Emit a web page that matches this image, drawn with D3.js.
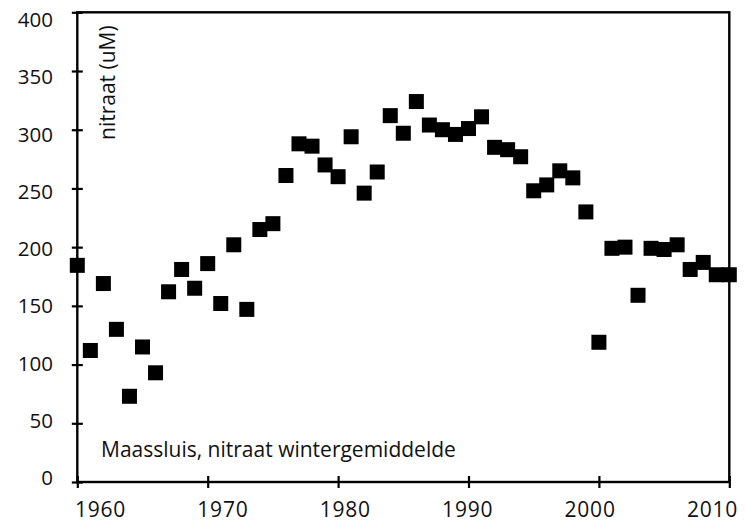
<!DOCTYPE html>
<meta charset="utf-8">
<html>
<head>
<script type="text/javascript" src="https://d3js.org/d3.v7.js"></script>
</head>
<body style="margin:0;background:#fff">
<div id="plotArea"></div>
<style>
  text { font-family: "Open Sans", sans-serif; fill: #111; }
</style>
<script>
  // winter means of nitrate at Maassluis, one value per year 1960-2010
  var years = d3.range(1960, 2011);
  var nitraat = [184.5, 112, 169, 130, 73, 115, 93, 162, 181, 165,
                 186, 152, 202, 147, 215, 220, 261, 288, 286, 270,
                 260, 294, 246, 264, 312, 297, 324, 304, 300, 296,
                 301, 311, 285, 283, 277, 248, 253, 265, 259, 230,
                 119, 199, 200, 159, 199, 198, 202, 181, 187, 176.5,
                 176.5];
  var xTicks = [1960, 1970, 1980, 1990, 2000, 2010];
  var yTicks = [0, 50, 100, 150, 200, 250, 300, 350, 400];

  const width = 746, height = 524;
  const svg = d3.select("#plotArea").append("svg")
                .attr("width", width).attr("height", height);

  // scales for the marks
  var xScale = d3.scaleLinear().domain([1960, 2010]).range([77.3, 729.3]);
  var yScale = d3.scaleLinear().domain([0, 400]).range([482, 12.3]);
  // the tick labels sit on a slightly tighter spacing than the tick marks
  var xLab = d3.scaleLinear().domain([1960, 2010]).range([100, 712]);
  var yLab = d3.scaleLinear().domain([0, 400]).range([478, 20]);

  // tick marks crossing the axes
  var yTickG = svg.append("g").attr("transform", "translate(" + (xScale(1960) + 5.5) + ",0)")
     .call(d3.axisLeft(yScale).tickValues(yTicks).tickSize(11).tickFormat(""));
  yTickG.select(".domain").remove();
  yTickG.selectAll("line").attr("stroke", "#000").attr("stroke-width", 2.2);

  var xTickG = svg.append("g").attr("transform", "translate(0," + (yScale(0) - 6) + ")")
     .call(d3.axisBottom(xScale).tickValues(xTicks).tickSize(12).tickFormat(""));
  xTickG.select(".domain").remove();
  xTickG.selectAll("line").attr("stroke", "#000").attr("stroke-width", 2.2);

  // tick labels
  var yLabG = svg.append("g").attr("transform", "translate(53,0)")
     .call(d3.axisLeft(yLab).tickValues(yTicks).tickSize(0).tickPadding(0));
  yLabG.select(".domain").remove();
  yLabG.selectAll("text").style("font-size", "20.5px").attr("fill", "#111");

  var xLabG = svg.append("g").attr("transform", "translate(0,502)")
     .call(d3.axisBottom(xLab).tickValues(xTicks).tickSize(0).tickPadding(0).tickFormat(d3.format("d")));
  xLabG.select(".domain").remove();
  xLabG.selectAll("text").style("font-size", "21px").style("letter-spacing", "0.8px").attr("fill", "#111");

  // the points
  var side = 15;
  svg.append("g").selectAll("rect")
     .data(d3.zip(years, nitraat))
     .enter().append("rect")
     .attr("x", function(d) { return xScale(d[0]) - side / 2; })
     .attr("y", function(d) { return yScale(d[1]) - side / 2; })
     .attr("width", side).attr("height", side)
     .attr("fill", "#000");

  // frame around the plot area
  svg.append("rect")
     .attr("x", xScale(1960)).attr("y", yScale(400))
     .attr("width", xScale(2010) - xScale(1960))
     .attr("height", yScale(0) - yScale(400))
     .attr("fill", "none").attr("stroke", "#000").attr("stroke-width", 2.4);

  // labels inside the plot
  svg.append("text")
     .attr("transform", "translate(115,140) rotate(-90)")
     .style("font-size", "21px")
     .text("nitraat (uM)");

  svg.append("text")
     .attr("x", 101).attr("y", 457)
     .style("font-size", "21px")
     .text("Maassluis, nitraat wintergemiddelde");
</script>
</body>
</html>
